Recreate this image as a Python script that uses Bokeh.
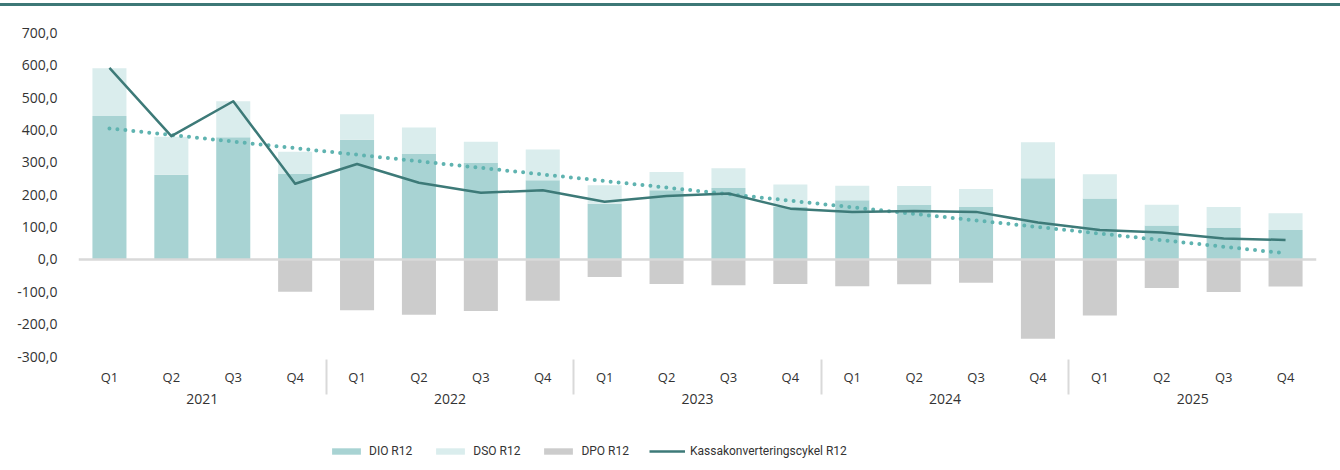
from bokeh.plotting import figure
from bokeh.models import (FactorRange, ColumnDataSource, FixedTicker, Span, Range1d,
                          Legend, LegendItem, Div, Spacer)
from bokeh.layouts import column
from bokeh.embed import file_html
from bokeh.resources import INLINE
import numpy as np

# ---------------- data ----------------
years = ["2021", "2022", "2023", "2024", "2025"]
quarters = ["Q1", "Q2", "Q3", "Q4"]

dio = [443, 262, 378, 264, 370, 326, 298, 245, 172, 214,
       221, 162, 183, 168, 162, 251, 188, 105, 97, 91]
dso = [148, 117, 111, 69, 79, 82, 66, 95, 57, 56,
       61, 70, 45, 59, 56, 111, 75, 64, 65, 52]
dpo = [0, 0, 0, -100, -157, -171, -159, -128, -54, -76,
       -80, -76, -83, -77, -72, -245, -173, -88, -101, -84]
ccc = [592, 381, 489, 234, 295, 237, 206, 214, 178, 196,
       204, 157, 147, 150, 147, 114, 91, 83, 65, 60]

y_ticks = [-300, -200, -100, 0, 100, 200, 300, 400, 500, 600, 700]

series_names = ["DIO R12", "DSO R12", "DPO R12", "Kassakonverteringscykel R12"]

# ---------------- styles ----------------
C_DIO = "#a8d3d3"
C_DSO = "#daeded"
C_DPO = "#cccccc"
C_LINE = "#3d7a78"
C_TREND = "#5fb3b0"
C_RULE = "#3d7877"
C_TEXT = "#333333"
AX_FONT = "Open Sans"
LEG_FONT = "Roboto"

W = 1340
GAP_H = 3
RULE_H = 3
MAIN_H = 424
LEG_H = 470 - GAP_H - RULE_H - MAIN_H
TOP = 20
FRAME_H = 330

# ---------------- top rule ----------------
gap = Spacer(width=W, height=GAP_H, margin=0)
rule = Div(text="", width=W, height=RULE_H, margin=0,
           styles={"background-color": C_RULE})

# ---------------- main chart ----------------
factors = [(y, q) for y in years for q in quarters]
dio_a = np.array(dio, dtype=float)
dso_top = dio_a + np.array(dso, dtype=float)
xi = np.arange(len(factors))
trend = np.polyval(np.polyfit(xi, np.array(ccc, dtype=float), 1), xi)

src = ColumnDataSource(dict(x=factors, dio=dio_a, dso_top=dso_top,
                            dpo=dpo, ccc=ccc, trend=trend,
                            zero=[0] * len(factors)))

x_range = FactorRange(*factors, factor_padding=0, group_padding=0, range_padding=0)

p = figure(x_range=x_range, y_range=Range1d(-300, 720),
           width=W, height=MAIN_H, output_backend="svg", toolbar_location=None,
           min_border_left=78, min_border_right=24, min_border_top=TOP,
           min_border_bottom=MAIN_H - TOP - FRAME_H)
p.outline_line_color = None
p.xgrid.grid_line_color = None
p.ygrid.grid_line_color = None

w = 0.55
p.vbar(x="x", bottom="zero", top="dio", width=w, source=src, fill_color=C_DIO, line_color=None)
p.vbar(x="x", bottom="dio", top="dso_top", width=w, source=src, fill_color=C_DSO, line_color=None)
p.vbar(x="x", bottom="zero", top="dpo", width=w, source=src, fill_color=C_DPO, line_color=None)

p.add_layout(Span(location=0, dimension="width", line_color="#d9d9d9", line_width=2.5))

p.line(x="x", y="trend", source=src, line_color=C_TREND, line_width=4,
       line_dash="0 8", line_cap="round")
p.line(x="x", y="ccc", source=src, line_color=C_LINE, line_width=2.5, line_join="round")

# y axis
p.yaxis.ticker = FixedTicker(ticks=y_ticks)
p.yaxis.major_label_overrides = {t: f"{t:.1f}".replace(".", ",") for t in y_ticks}
p.yaxis.axis_line_color = None
p.yaxis.major_tick_line_color = None
p.yaxis.minor_tick_line_color = None
p.yaxis.major_label_text_font = AX_FONT
p.yaxis.major_label_text_font_size = "14px"
p.yaxis.major_label_text_color = C_TEXT
p.yaxis.major_label_standoff = 15

# x axis
xa = p.xaxis[0]
xa.axis_line_color = None
xa.major_tick_line_color = None
xa.minor_tick_line_color = None
xa.major_label_text_font = AX_FONT
xa.major_label_text_font_size = "13px"
xa.major_label_text_color = C_TEXT
xa.group_text_font = AX_FONT
xa.group_text_font_size = "14px"
xa.group_text_font_style = "normal"
xa.group_text_color = C_TEXT
xa.major_label_standoff = 5
xa.separator_line_color = "#d9d9d9"
xa.separator_line_width = 2

# ---------------- legend strip ----------------
lg = figure(width=W, height=LEG_H, x_range=Range1d(0, 1), y_range=Range1d(0, 1),
            x_axis_type=None, y_axis_type=None, output_backend="svg",
            toolbar_location=None, min_border=0)
lg.outline_line_color = None
lg.grid.visible = False
# swatch renderers kept outside the visible range; only their legend glyphs show
g_dio = lg.vbar(x=[-5], top=[-5], width=0.1, fill_color=C_DIO, line_color=None)
g_dso = lg.vbar(x=[-5], top=[-5], width=0.1, fill_color=C_DSO, line_color=None)
g_dpo = lg.vbar(x=[-5], top=[-5], width=0.1, fill_color=C_DPO, line_color=None)
g_ccc = lg.line(x=[-6, -5], y=[-5, -5], line_color=C_LINE, line_width=2.5)

legend = Legend(items=[LegendItem(label=series_names[0], renderers=[g_dio]),
                       LegendItem(label=series_names[1], renderers=[g_dso]),
                       LegendItem(label=series_names[2], renderers=[g_dpo]),
                       LegendItem(label=series_names[3], renderers=[g_ccc])],
                orientation="horizontal", location=(250, 12),
                label_text_font=LEG_FONT, label_text_font_size="12px",
                label_text_color=C_TEXT, glyph_width=36, glyph_height=8,
                label_standoff=5, spacing=20, border_line_color=None,
                background_fill_alpha=0, padding=0, margin=0)
lg.add_layout(legend)

layout = column(gap, rule, p, lg, spacing=0)
open("out.html", "w").write(file_html(layout, INLINE))
